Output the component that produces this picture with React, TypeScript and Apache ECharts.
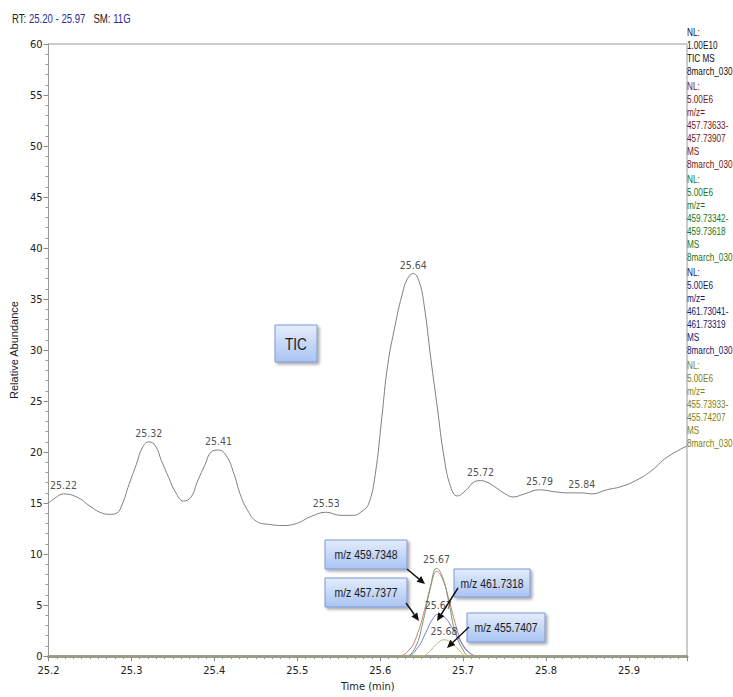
import React, { useEffect, useRef } from "react";
import * as echarts from "echarts";

// ---------- data ----------
const ticTimes = [
  25.2, 25.208, 25.218, 25.234, 25.25, 25.262, 25.274, 25.282, 25.289, 25.297, 25.306, 25.313,
  25.321, 25.329, 25.336, 25.345, 25.353, 25.363, 25.372, 25.38, 25.389, 25.396, 25.405, 25.414,
  25.424, 25.431, 25.44, 25.451, 25.467, 25.483, 25.499, 25.517, 25.535, 25.552, 25.568, 25.578,
  25.586, 25.594, 25.602, 25.609, 25.618, 25.626, 25.633, 25.64, 25.647, 25.653, 25.661, 25.669,
  25.677, 25.685, 25.693, 25.704, 25.712, 25.721, 25.73, 25.74, 25.751, 25.76, 25.774, 25.792,
  25.811, 25.828, 25.843, 25.855, 25.873, 25.89, 25.908, 25.926, 25.946, 25.97,
];
const ticValues = [
  15.0, 15.5, 15.9, 15.6, 14.7, 14.1, 13.9, 14.0, 14.9, 16.8, 18.8, 20.4,
  21.0, 20.6, 19.2, 17.5, 16.1, 15.2, 15.6, 17.2, 18.8, 20.0, 20.2, 19.7,
  17.8, 15.9, 14.3, 13.2, 12.9, 12.8, 13.0, 13.7, 14.1, 13.8, 13.8, 14.2,
  14.9, 17.8, 23.4, 28.5, 32.4, 35.3, 37.0, 37.5, 36.7, 34.4, 29.2, 24.3,
  19.5, 16.6, 15.7, 16.3, 17.0, 17.2, 17.0, 16.5, 15.9, 15.6, 15.9, 16.3,
  16.1, 16.0, 16.0, 15.9, 16.3, 16.6, 17.2, 18.1, 19.5, 20.6,
];

const mz457Times = [25.2, 25.62, 25.635, 25.645, 25.655, 25.662, 25.668, 25.675, 25.683, 25.692, 25.7, 25.71, 25.72, 25.97];
const mz457Values = [0, 0, 0.6, 2.2, 5.0, 7.2, 8.3, 7.6, 5.5, 2.8, 1.0, 0.2, 0, 0];

const mz459Times = [25.2, 25.63, 25.642, 25.652, 25.66, 25.668, 25.675, 25.683, 25.69, 25.7, 25.708, 25.97];
const mz459Values = [0, 0, 0.8, 3.5, 6.5, 8.6, 7.8, 5.2, 2.5, 0.6, 0, 0];

const mz461Times = [25.2, 25.632, 25.645, 25.655, 25.663, 25.67, 25.678, 25.688, 25.698, 25.708, 25.716, 25.97];
const mz461Values = [0, 0, 0.8, 2.3, 3.6, 4.1, 3.8, 2.6, 1.3, 0.3, 0, 0];

const mz455Times = [25.2, 25.65, 25.66, 25.668, 25.677, 25.686, 25.695, 25.705, 25.97];
const mz455Values = [0, 0, 0.5, 1.2, 1.6, 1.3, 0.6, 0, 0];

const peakLabels = ["25.22", "25.32", "25.41", "25.53", "25.64", "25.72", "25.79", "25.84", "25.67", "25.67", "25.68"];
const peakTimes = [25.218, 25.321, 25.405, 25.535, 25.64, 25.721, 25.792, 25.843, 25.668, 25.67, 25.677];
const peakValues = [15.9, 21.0, 20.2, 14.1, 37.5, 17.2, 16.3, 16.0, 8.6, 4.1, 1.6];

const xMin = 25.2;
const xMax = 25.97;
const yMin = 0;
const yMax = 60;

const headerRange = "25.20 - 25.97";
const headerSM = "11G";

const legendGroups = [
  { color: "#111111", lines: ["NL:", "1.00E10", "TIC MS", "8march_030"] },
  { color: "#741212", lines: ["NL:", "5.00E6", "m/z=", "457.73633-", "457.73907", "MS", "8march_030"] },
  { color: "#187418", lines: ["NL:", "5.00E6", "m/z=", "459.73342-", "459.73618", "MS", "8march_030"] },
  { color: "#141468", lines: ["NL:", "5.00E6", "m/z=", "461.73041-", "461.73319", "MS", "8march_030"] },
  { color: "#7e7e14", lines: ["NL:", "5.00E6", "m/z=", "455.73933-", "455.74207", "MS", "8march_030"] },
];

const calloutTexts = ["TIC", "m/z 459.7348", "m/z 457.7377", "m/z 461.7318", "m/z 455.7407"];

// ---------- layout ----------
const SANS = "'Liberation Sans', Arial, sans-serif";
const COND = "'DejaVu Sans Condensed', 'Liberation Sans', sans-serif";

const calloutBoxes = [
  { x: 275, y: 325, w: 42, h: 37 },
  { x: 325, y: 540, w: 82, h: 29 },
  { x: 325, y: 578, w: 82, h: 29 },
  { x: 454, y: 569, w: 76, h: 28 },
  { x: 467, y: 613, w: 78, h: 29 },
];
const arrows = [
  [407, 569, 425, 584],
  [406, 603, 419, 621],
  [458, 588, 437, 621],
  [469, 627, 447, 648],
];

function pairs(ts: number[], vs: number[]) {
  return ts.map((t, i) => [t, vs[i]]);
}

function arrowGraphics(x1: number, y1: number, x2: number, y2: number) {
  const a = Math.atan2(y2 - y1, x2 - x1);
  const L = 8;
  const W = 3.6;
  const c = Math.cos(a);
  const s = Math.sin(a);
  const bx = x2 - L * c;
  const by = y2 - L * s;
  return [
    {
      type: "line",
      shape: { x1, y1, x2: bx, y2: by },
      style: { stroke: "#111", lineWidth: 1.4 },
      z: 100,
    },
    {
      type: "polygon",
      shape: {
        points: [
          [x2, y2],
          [bx + W * s, by - W * c],
          [bx - W * s, by + W * c],
        ],
      },
      style: { fill: "#111" },
      z: 100,
    },
  ];
}

export default function App() {
  const ref = useRef<HTMLDivElement>(null);
  useEffect(() => {
    const chart = echarts.init(ref.current!, null, { renderer: "svg" });

    const graphics: any[] = [];
    // header
    graphics.push({
      type: "text",
      x: 12,
      y: 19,
      scaleX: 0.8,
      style: {
        text: "{k|RT: }{v|" + headerRange + "}{k|   SM: }{v|" + headerSM + "}",
        verticalAlign: "middle",
        rich: {
          k: { fill: "#222", fontSize: 12, fontFamily: SANS },
          v: { fill: "#2b2b9a", fontSize: 12, fontFamily: SANS },
        },
      },
    });
    // right legend
    let y = 32;
    legendGroups.forEach((g, gi) => {
      if (gi > 0) y += 2;
      g.lines.forEach((line) => {
        graphics.push({
          type: "text",
          x: 687,
          y,
          scaleX: 0.78,
          style: {
            text: line,
            fill: g.color,
            fontSize: 10.5,
            fontFamily: SANS,
            verticalAlign: "middle",
            align: "left",
          },
        });
        y += 13;
      });
    });
    // callouts
    calloutBoxes.forEach((b, i) => {
      graphics.push({
        type: "rect",
        shape: { x: b.x, y: b.y, width: b.w, height: b.h },
        style: {
          fill: new echarts.graphic.LinearGradient(0, 0, 0, 1, [
            { offset: 0, color: "#e4edfc" },
            { offset: 1, color: "#a9c3f2" },
          ]),
          stroke: "#7b98d6",
          lineWidth: 1,
          shadowBlur: 3,
          shadowOffsetX: 2,
          shadowOffsetY: 2,
          shadowColor: "rgba(0,0,0,0.35)",
        },
        z: 90,
      });
      graphics.push({
        type: "text",
        x: b.x + b.w / 2,
        y: b.y + b.h / 2,
        scaleX: 0.8,
        style: {
          text: calloutTexts[i],
          fill: "#1a1a1a",
          fontSize: i === 0 ? 17 : 13,
          fontFamily: SANS,
          align: "center",
          verticalAlign: "middle",
        },
        z: 91,
      });
    });
    arrows.forEach((a) => graphics.push(...arrowGraphics(a[0], a[1], a[2], a[3])));

    const lineSeries = (name: string, data: number[][], color: string, z: number) => ({
      name,
      type: "line",
      data,
      showSymbol: false,
      symbol: "none",
      smooth: 0.45,
      lineStyle: { color, width: 1 },
      z,
      silent: true,
    });

    const option: any = {
      animation: false,
      backgroundColor: "#ffffff",
      grid: {
        left: 38,
        right: 46,
        top: 44,
        bottom: 37,
        show: true,
        borderColor: "#9a9a9a",
        borderWidth: 1,
      },
      xAxis: {
        type: "value",
        min: xMin,
        max: xMax,
        interval: 0.1,
        name: "Time (min)",
        nameLocation: "middle",
        nameGap: 24,
        nameTextStyle: { fontSize: 11, color: "#222", fontFamily: COND },
        axisLine: { show: true, lineStyle: { color: "#9c9c86", width: 3 } },
        axisTick: { show: true, length: 5, lineStyle: { color: "#8a8a8a" } },
        minorTick: { show: true, splitNumber: 10, length: 3, lineStyle: { color: "#9a9a9a" } },
        splitLine: { show: false },
        axisLabel: {
          fontSize: 11,
          color: "#222",
          fontFamily: COND,
          margin: 9,
          showMaxLabel: false,
          formatter: (v: number) => (Math.abs(v - xMax) < 1e-6 ? "" : v.toFixed(1)),
        },
      },
      yAxis: {
        type: "value",
        min: yMin,
        max: yMax,
        interval: 5,
        name: "Relative Abundance",
        nameLocation: "middle",
        nameGap: 22,
        nameTextStyle: { fontSize: 11, color: "#222", fontFamily: SANS },
        axisLine: { show: true, lineStyle: { color: "#9a9a9a", width: 1 } },
        axisTick: { show: true, length: 5, lineStyle: { color: "#8a8a8a" } },
        minorTick: { show: true, splitNumber: 5, length: 3, lineStyle: { color: "#9a9a9a" } },
        splitLine: { show: false },
        axisLabel: { fontSize: 11, color: "#222", fontFamily: COND, margin: 6 },
      },
      series: [
        lineSeries("TIC", pairs(ticTimes, ticValues), "#808080", 3),
        lineSeries("m/z 457", pairs(mz457Times, mz457Values), "#d07a7a", 4),
        lineSeries("m/z 459", pairs(mz459Times, mz459Values), "#6aa06a", 5),
        lineSeries("m/z 461", pairs(mz461Times, mz461Values), "#7a7ad8", 6),
        lineSeries("m/z 455", pairs(mz455Times, mz455Values), "#bcbc6a", 7),
        {
          name: "peaks",
          type: "scatter",
          data: peakTimes.map((t, i) => [t, peakValues[i], peakLabels[i]]),
          symbolSize: 1,
          itemStyle: { color: "rgba(0,0,0,0)" },
          silent: true,
          z: 10,
          label: {
            show: true,
            position: "top",
            distance: 3,
            formatter: (p: any) => p.data[2],
            fontSize: 10.5,
            color: "#222",
            fontFamily: COND,
          },
        },
      ],
      graphic: graphics,
    };
    chart.setOption(option);
    return () => chart.dispose();
  }, []);
  return (
    <div
      ref={ref}
      style={{ position: "fixed", left: 0, top: 0, width: 733, height: 697, background: "#fff" }}
    />
  );
}
